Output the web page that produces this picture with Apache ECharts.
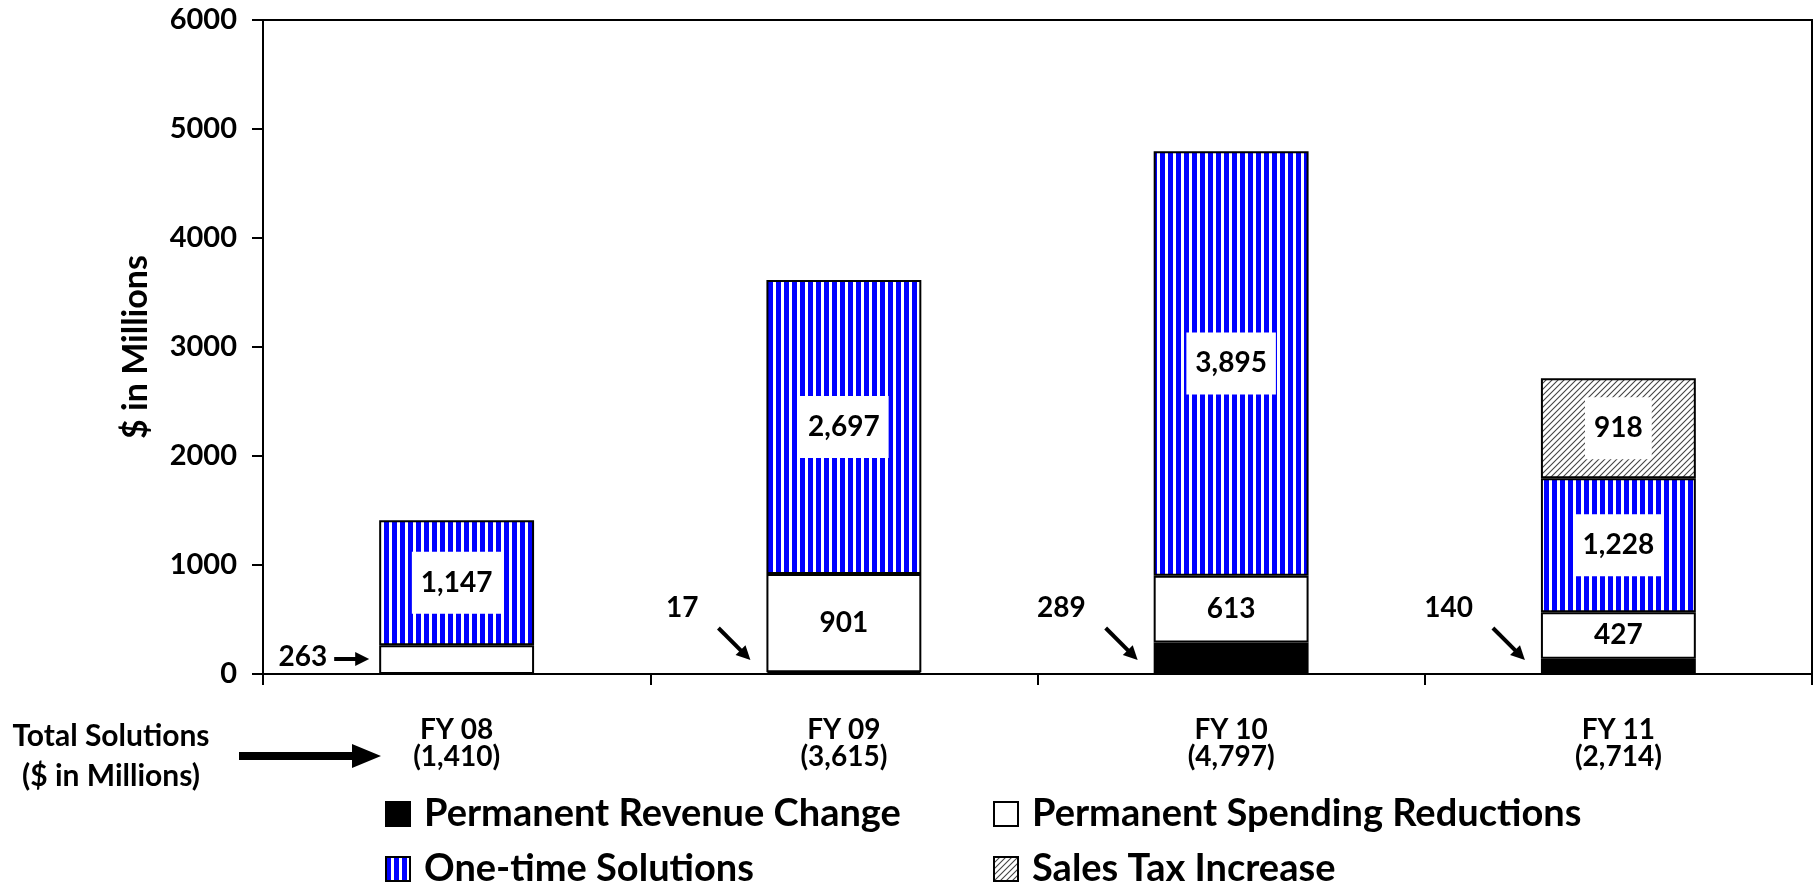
<!DOCTYPE html>
<html>
<head>
<meta charset="utf-8">
<title>Total Solutions by Fiscal Year</title>
<script src="https://cdn.jsdelivr.net/npm/echarts@6/dist/echarts.min.js"></script>
<style>
  html, body { margin: 0; padding: 0; background: #fff; }
  #chart { width: 1813px; height: 887px; }
</style>
</head>
<body>
<div id="chart"></div>
<script>
// data ($ in millions)
var years = ['FY 08', 'FY 09', 'FY 10', 'FY 11'];
var totals = ['1,410', '3,615', '4,797', '2,714'];
var revenueChange = [0, 17, 289, 140];
var spendingCuts = [263, 901, 613, 427];
var oneTime = [1147, 2697, 3895, 1228];
var salesTax = [null, null, null, 918];

// segments smaller than this get a label outside with an arrow
var calloutLimit = 300;

var FONT = 'Lato';

function fmt(v) {
    return Number(v).toLocaleString('en-US');
}

// fill patterns
function stripes() {
    var c = document.createElement('canvas');
    c.width = 8; c.height = 8;
    var g = c.getContext('2d');
    g.fillStyle = '#fff';
    g.fillRect(0, 0, 8, 8);
    g.fillStyle = '#0000ff';
    g.fillRect(0, 0, 5, 8);
    return c;
}
function hatch() {
    var c = document.createElement('canvas');
    c.width = 6; c.height = 6;
    var g = c.getContext('2d');
    g.fillStyle = '#fff';
    g.fillRect(0, 0, 6, 6);
    g.strokeStyle = '#444';
    g.lineWidth = 1.1;
    g.beginPath();
    g.moveTo(0, 6); g.lineTo(6, 0);
    g.moveTo(-1, 1); g.lineTo(1, -1);
    g.moveTo(5, 7); g.lineTo(7, 5);
    g.stroke();
    return c;
}

// callout data: [category, value, 1 = side arrow / 0 = diagonal arrow]
var callouts = years.map(function (y, i) {
    if (revenueChange[i] > 0 && revenueChange[i] < calloutLimit) return [i, revenueChange[i], 0];
    return [i, spendingCuts[i], 1];
});

function renderCallout(params, api) {
    var i = api.value(0);
    var base = api.coord([i, 0]);
    var half = api.size([1, 0])[0] * 0.2;
    var xL = base[0] - half;
    var y0 = base[1];
    var txt = fmt(api.value(1));
    var kids = [];
    var arrowStyle = { stroke: '#000', lineWidth: 4 };
    if (api.value(2) === 1) {
        var ay = y0 - 15;
        kids.push({ type: 'line', shape: { x1: xL - 45, y1: ay, x2: xL - 22, y2: ay }, style: arrowStyle });
        kids.push({ type: 'polygon', shape: { points: [[xL - 10, ay], [xL - 24, ay - 7], [xL - 24, ay + 7]] }, style: { fill: '#000' } });
        kids.push({ type: 'text', style: { text: txt, x: xL - 52, y: ay - 2, align: 'right', verticalAlign: 'middle',
            fontFamily: FONT, fontWeight: 'bold', fontSize: 28, fill: '#000' } });
    } else {
        var tip = [xL - 16, y0 - 14];
        var d = Math.SQRT1_2;
        var back = [tip[0] - 14 * d, tip[1] - 14 * d];
        kids.push({ type: 'line', shape: { x1: xL - 48, y1: y0 - 46, x2: back[0] + 2, y2: back[1] + 2 }, style: arrowStyle });
        kids.push({ type: 'polygon', shape: { points: [tip, [back[0] + 7 * d, back[1] - 7 * d], [back[0] - 7 * d, back[1] + 7 * d]] },
            style: { fill: '#000' } });
        kids.push({ type: 'text', style: { text: txt, x: xL - 68, y: y0 - 66, align: 'right', verticalAlign: 'middle',
            fontFamily: FONT, fontWeight: 'bold', fontSize: 28, fill: '#000' } });
    }
    return { type: 'group', children: kids };
}

var boxLabel = {
    show: true,
    position: 'inside',
    formatter: function (p) { return fmt(p.value); },
    color: '#000',
    fontFamily: FONT,
    fontWeight: 'bold',
    fontSize: 28,
    backgroundColor: '#fff',
    padding: [17, 9]
};

// one legend per entry, laid out as a 2 x 2 block
function legendItem(name, left, top) {
    return {
        data: [name],
        left: left, top: top,
        padding: 0,
        itemWidth: 24, itemHeight: 24,
        icon: 'rect', selectedMode: false,
        textStyle: { fontFamily: FONT, fontWeight: 'bold', fontSize: 38, color: '#000', padding: [0, 0, 0, 9] }
    };
}

var myChart = echarts.init(document.getElementById('chart'));
var option = {
    animation: false,
    textStyle: { fontFamily: FONT, fontWeight: 'bold', color: '#000' },
    grid: {
        left: 263, right: 1, top: 20, bottom: 213,
        show: true, borderColor: '#000', borderWidth: 2
    },
    legend: [
        legendItem('Permanent Revenue Change', 385, 795),
        legendItem('Permanent Spending Reductions', 993, 795),
        legendItem('One-time Solutions', 385, 850),
        legendItem('Sales Tax Increase', 993, 850)
    ],
    xAxis: {
        type: 'category',
        data: years,
        axisLine: { lineStyle: { color: '#000', width: 2 } },
        axisTick: { show: true, length: 11, lineStyle: { color: '#000', width: 2 } },
        axisLabel: {
            margin: 42,
            fontFamily: FONT, fontWeight: 'bold', fontSize: 28, lineHeight: 27, color: '#000',
            formatter: function (v, i) { return v + '\n(' + totals[i] + ')'; }
        }
    },
    yAxis: {
        type: 'value',
        min: 0, max: 6000, interval: 1000,
        name: '$ in Millions',
        nameLocation: 'middle',
        nameRotate: 90,
        nameGap: 110,
        nameTextStyle: { fontFamily: FONT, fontWeight: 'bold', fontSize: 34, color: '#000' },
        axisLine: { show: true, lineStyle: { color: '#000', width: 2 } },
        axisTick: { show: true, length: 11, lineStyle: { color: '#000', width: 2 } },
        axisLabel: {
            margin: 26, fontFamily: FONT, fontWeight: 'bold', fontSize: 29, color: '#000',
            formatter: function (v) { return String(v); }
        },
        splitLine: { show: false }
    },
    graphic: [
        {
            type: 'text', x: 111, y: 716,
            style: {
                text: 'Total Solutions\n($ in Millions)',
                align: 'center', verticalAlign: 'top',
                fontFamily: FONT, fontWeight: 'bold', fontSize: 30, lineHeight: 40, fill: '#000'
            }
        },
        {
            type: 'polygon',
            shape: { points: [[239, 752], [352, 752], [352, 744], [381, 756], [352, 768], [352, 760], [239, 760]] },
            style: { fill: '#000' }
        }
    ],
    series: [
        {
            name: 'Permanent Revenue Change', type: 'bar', stack: 'total', barWidth: '40%',
            data: revenueChange,
            itemStyle: { color: '#000', borderColor: '#000', borderWidth: 2 }
        },
        {
            name: 'Permanent Spending Reductions', type: 'bar', stack: 'total',
            data: spendingCuts,
            itemStyle: { color: '#fff', borderColor: '#000', borderWidth: 2 },
            label: {
                show: true, position: 'inside', color: '#000',
                fontFamily: FONT, fontWeight: 'bold', fontSize: 28,
                formatter: function (p) { return p.value >= calloutLimit ? fmt(p.value) : ''; }
            }
        },
        {
            name: 'One-time Solutions', type: 'bar', stack: 'total',
            data: oneTime,
            itemStyle: { color: { image: stripes(), repeat: 'repeat' }, borderColor: '#000', borderWidth: 2 },
            label: boxLabel
        },
        {
            name: 'Sales Tax Increase', type: 'bar', stack: 'total',
            data: salesTax,
            itemStyle: { color: { image: hatch(), repeat: 'repeat' }, borderColor: '#000', borderWidth: 2 },
            label: boxLabel
        },
        {
            name: 'callouts', type: 'custom',
            data: callouts,
            encode: { x: 0, y: 1 },
            renderItem: renderCallout,
            silent: true,
            z: 5
        }
    ]
};
myChart.setOption(option);
</script>
</body>
</html>
